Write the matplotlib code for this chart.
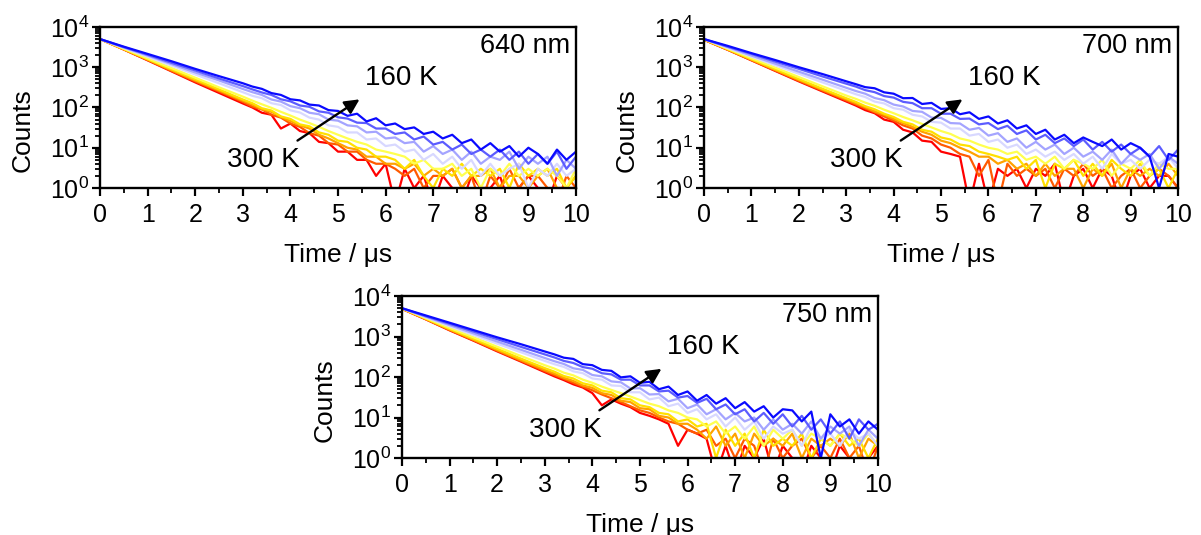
"""
Temperature dependent PL decays at 640, 700 and 750 nm (300 K -> 160 K)
"""
import numpy as np
import matplotlib
matplotlib.use('Agg')
import matplotlib.pyplot as plt
from matplotlib.ticker import MultipleLocator, LogLocator, LogFormatterMathtext, NullFormatter

plt.rcParams['font.family'] = ['Liberation Sans', 'DejaVu Sans']
plt.rcParams['mathtext.default'] = 'regular'

time_us = [0, 0.5, 1, 1.5, 2, 2.5, 3,
           3.2, 3.4, 3.6, 3.8, 4.0, 4.2, 4.4, 4.6, 4.8, 5.0,
           5.2, 5.4, 5.6, 5.8, 6.0, 6.2, 6.4, 6.6, 6.8, 7.0,
           7.2, 7.4, 7.6, 7.8, 8.0, 8.2, 8.4, 8.6, 8.8, 9.0,
           9.2, 9.4, 9.6, 9.8, 10.0]

temps_K = [300, 280, 260, 240, 220, 200, 190, 175, 160]

# counts per temperature (same order as temps_K)
counts_640 = [
    [5000, 2750, 1480, 790, 420, 230, 126, 100, 74, 66, 30, 40, 26, 23, 14, 13, 8, 8, 5, 5, 2, 4, 0, 3, 1, 2, 0, 2, 1, 0, 2, 1, 1, 2, 0, 1, 2, 1, 0, 2, 1, 1],
    [5000, 2750, 1510, 810, 445, 250, 138, 105, 90, 66, 56, 40, 33, 23, 20, 13, 12, 8, 8, 5, 4, 4, 3, 2, 3, 1, 2, 2, 3, 1, 2, 0, 2, 1, 3, 1, 2, 2, 1, 0, 2, 1],
    [5000, 2800, 1550, 850, 470, 265, 148, 118, 90, 78, 58, 46, 36, 30, 21, 17, 13, 10, 9, 6, 6, 4, 4, 3, 4, 2, 3, 2, 3, 1, 2, 2, 3, 1, 2, 2, 1, 2, 3, 1, 1, 2],
    [5000, 2820, 1580, 890, 500, 282, 158, 128, 96, 84, 60, 52, 38, 34, 24, 21, 15, 14, 10, 9, 6, 6, 5, 3, 5, 2, 1, 3, 2, 4, 2, 3, 2, 3, 1, 4, 2, 3, 2, 3, 1, 2],
    [5000, 2880, 1660, 955, 550, 316, 186, 148, 120, 98, 78, 63, 50, 41, 33, 26, 21, 17, 14, 12, 9, 8, 7, 6, 4, 5, 3, 3, 4, 2, 3, 1, 3, 2, 4, 2, 3, 2, 3, 2, 1, 3],
    [5000, 3000, 1820, 1100, 660, 400, 240, 195, 170, 128, 115, 85, 75, 56, 50, 36, 33, 24, 24, 16, 17, 11, 12, 8, 9, 5, 7, 4, 6, 3, 5, 2, 4, 2, 3, 4, 1, 3, 2, 4, 2, 3],
    [5000, 3090, 1950, 1200, 740, 468, 288, 240, 205, 158, 140, 108, 96, 74, 68, 50, 47, 36, 34, 24, 25, 17, 18, 13, 14, 8, 11, 7, 9, 5, 8, 4, 6, 5, 8, 3, 6, 4, 6, 2, 5, 3],
    [5000, 3160, 2040, 1290, 830, 525, 340, 282, 236, 205, 160, 142, 112, 104, 80, 74, 57, 53, 42, 41, 30, 30, 22, 24, 16, 19, 12, 14, 9, 12, 7, 9, 6, 9, 5, 8, 4, 7, 4, 8, 3, 6],
    [5000, 3240, 2140, 1410, 910, 600, 400, 331, 290, 228, 205, 160, 150, 118, 112, 86, 82, 62, 70, 45, 54, 36, 40, 29, 32, 22, 25, 17, 21, 13, 16, 9, 13, 8, 11, 6, 10, 7, 4, 9, 5, 8],
]

counts_700 = [
    [4800, 2700, 1480, 810, 445, 250, 141, 112, 86, 72, 50, 44, 28, 24, 15, 14, 8, 7, 6, 0, 4, 0, 3, 2, 3, 1, 3, 2, 4, 0, 2, 3, 1, 3, 2, 0, 2, 3, 1, 2, 2, 1],
    [4800, 2720, 1500, 830, 460, 262, 150, 120, 95, 76, 60, 47, 36, 30, 20, 17, 12, 10, 7, 6, 2, 5, 0, 4, 2, 3, 2, 3, 1, 3, 2, 4, 2, 3, 1, 2, 3, 1, 2, 3, 2, 1],
    [4850, 2760, 1540, 860, 485, 275, 160, 128, 102, 80, 66, 52, 41, 33, 25, 21, 15, 13, 10, 8, 6, 6, 4, 5, 3, 4, 2, 4, 2, 3, 3, 1, 3, 2, 4, 1, 3, 2, 3, 2, 4, 2],
    [4900, 2800, 1580, 900, 510, 292, 170, 138, 108, 90, 70, 58, 44, 38, 28, 25, 18, 16, 12, 11, 8, 7, 6, 5, 6, 3, 5, 1, 4, 3, 5, 2, 4, 2, 5, 3, 2, 4, 2, 3, 1, 3],
    [4950, 2880, 1680, 980, 570, 335, 198, 164, 132, 110, 88, 72, 58, 48, 39, 32, 26, 22, 17, 15, 12, 10, 9, 7, 8, 5, 6, 4, 6, 3, 5, 4, 3, 5, 2, 4, 3, 5, 2, 4, 3, 3],
    [5000, 3000, 1840, 1120, 690, 420, 260, 214, 182, 140, 126, 96, 88, 66, 60, 44, 42, 30, 30, 20, 22, 14, 16, 10, 12, 7, 9, 6, 8, 5, 7, 4, 6, 3, 7, 4, 5, 3, 5, 4, 6, 3],
    [5000, 3160, 1950, 1230, 776, 490, 309, 257, 220, 172, 152, 118, 106, 82, 78, 56, 55, 41, 40, 28, 31, 20, 23, 14, 17, 10, 14, 9, 12, 7, 10, 6, 8, 5, 9, 4, 7, 5, 7, 3, 6, 4],
    [5000, 3240, 2140, 1380, 912, 590, 390, 331, 270, 240, 192, 176, 138, 128, 96, 96, 70, 70, 52, 53, 38, 41, 29, 35, 22, 27, 16, 21, 13, 17, 11, 16, 9, 14, 8, 12, 7, 10, 6, 11, 5, 9],
    [5000, 3390, 2240, 1510, 1000, 676, 447, 380, 320, 300, 238, 220, 170, 172, 122, 130, 92, 96, 68, 76, 52, 60, 40, 48, 30, 36, 22, 28, 16, 21, 13, 18, 14, 11, 16, 9, 13, 10, 6, 1, 7, 6],
]

counts_750 = [
    [4800, 2650, 1420, 790, 430, 240, 132, 104, 84, 66, 55, 40, 20, 28, 22, 18, 13, 11, 9, 7, 2, 5, 4, 3, 0, 2, 0, 2, 1, 3, 0, 2, 1, 0, 2, 1, 0, 2, 1, 0, 1, 2],
    [4850, 2680, 1450, 810, 445, 250, 140, 112, 90, 72, 58, 47, 37, 30, 24, 19, 15, 13, 10, 8, 7, 5, 4, 5, 2, 3, 1, 3, 2, 0, 3, 1, 2, 3, 1, 2, 1, 3, 1, 2, 0, 2],
    [4900, 2720, 1490, 840, 465, 262, 150, 122, 96, 80, 62, 54, 40, 36, 26, 24, 17, 16, 11, 10, 7, 7, 5, 3, 6, 2, 4, 1, 4, 2, 3, 2, 4, 1, 3, 2, 3, 2, 4, 1, 3, 2],
    [4900, 2760, 1540, 880, 500, 285, 166, 136, 106, 92, 70, 62, 46, 42, 30, 28, 20, 18, 13, 12, 8, 9, 6, 7, 1, 5, 2, 4, 1, 5, 2, 3, 2, 4, 1, 3, 2, 4, 2, 3, 1, 3],
    [4950, 2840, 1640, 960, 560, 330, 196, 162, 128, 110, 86, 72, 58, 48, 40, 33, 27, 22, 19, 15, 13, 10, 9, 6, 8, 4, 6, 3, 6, 2, 5, 3, 5, 2, 4, 3, 2, 4, 3, 2, 4, 2],
    [5000, 2980, 1800, 1090, 665, 408, 250, 208, 178, 138, 124, 92, 86, 62, 60, 42, 42, 28, 31, 19, 22, 13, 16, 9, 12, 6, 10, 5, 8, 3, 6, 4, 5, 2, 6, 3, 4, 2, 5, 3, 4, 2],
    [5000, 3080, 1920, 1200, 750, 470, 295, 246, 210, 164, 150, 112, 104, 78, 74, 52, 53, 37, 38, 25, 29, 17, 21, 12, 16, 9, 13, 8, 10, 5, 9, 5, 7, 4, 8, 3, 6, 4, 6, 2, 5, 3],
    [5000, 3180, 2060, 1330, 860, 555, 362, 305, 250, 222, 176, 160, 124, 116, 86, 86, 62, 62, 44, 46, 31, 34, 23, 29, 16, 21, 12, 16, 8, 13, 7, 12, 6, 11, 5, 9, 4, 8, 3, 9, 5, 7],
    [5000, 3310, 2190, 1445, 955, 645, 427, 363, 300, 280, 208, 196, 150, 142, 98, 104, 72, 76, 50, 58, 36, 44, 26, 36, 22, 30, 17, 24, 14, 19, 10, 16, 15, 8, 14, 1, 12, 6, 9, 4, 8, 5],
]

wavelengths = ['640 nm', '700 nm', '750 nm']
colors = ['#ff0000', '#ff5a00', '#ffa200', '#ffe000', '#ffff50',
          '#d8d8ff', '#a4a4ff', '#5c5cff', '#0a0aff']

fig = plt.figure(figsize=(12.01, 5.35), dpi=100)
ax1 = fig.add_axes([0.0833, 0.6486, 0.3963, 0.3010])
ax2 = fig.add_axes([0.5862, 0.6486, 0.3947, 0.3010])
ax3 = fig.add_axes([0.3347, 0.1439, 0.3963, 0.3028])

for ax, data, wl in zip([ax1, ax2, ax3], [counts_640, counts_700, counts_750], wavelengths):
    for c, col in zip(data, colors):
        y = np.clip(np.array(c, dtype=float), 0.4, None)
        ax.plot(time_us, y, '-', color=col, lw=1.6)

    ax.set_yscale('log')
    ax.set_xlim(0, 10)
    ax.set_ylim(1, 1e4)
    ax.xaxis.set_major_locator(MultipleLocator(1))
    ax.xaxis.set_minor_locator(MultipleLocator(0.5))
    ax.yaxis.set_major_locator(LogLocator(base=10, numticks=10))
    ax.yaxis.set_minor_locator(LogLocator(base=10, subs=np.arange(2, 10), numticks=10))
    ax.yaxis.set_major_formatter(LogFormatterMathtext())
    ax.yaxis.set_minor_formatter(NullFormatter())
    ax.tick_params(which='major', direction='out', length=6, width=1.6, labelsize=18)
    ax.tick_params(axis='x', which='major', pad=5)
    ax.tick_params(axis='y', which='major', pad=2)
    ax.tick_params(which='minor', direction='out', length=3.5, width=1.3)
    for s in ax.spines.values():
        s.set_linewidth(1.7)

    ax.set_xlabel('Time / μs', fontsize=19, labelpad=11)
    ax.set_ylabel('Counts', fontsize=19)
    ax.yaxis.set_label_coords(-0.137, 0.36)

    ax.text(0.987, 0.965, wl, transform=ax.transAxes, ha='right', va='top', fontsize=19.5)
    ax.annotate('', xy=(5.5, 10**2.24), xytext=(4.1, 10**1.14),
                arrowprops=dict(arrowstyle='-|>', color='k', lw=1.7, mutation_scale=22))
    ax.text(5.57, 10**2.73, '160 K', ha='left', va='center', fontsize=20)
    ax.text(4.2, 10**0.7, '300 K', ha='right', va='center', fontsize=20)

fig.savefig('out.png', dpi=100)
